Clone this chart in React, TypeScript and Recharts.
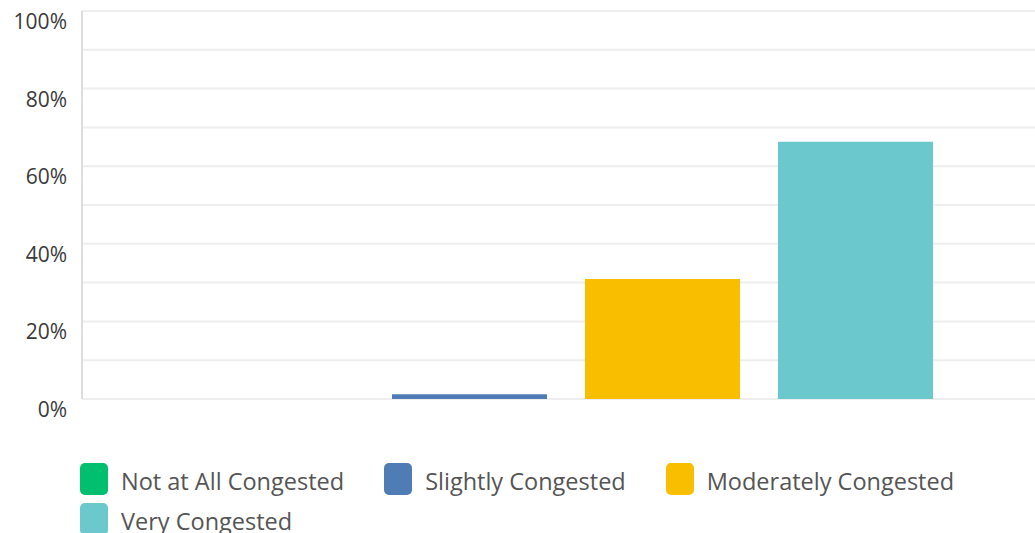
import React from "react";
import { BarChart, Bar, XAxis, YAxis, CartesianGrid, Legend } from "recharts";

const categories = ["Not at All Congested", "Slightly Congested", "Moderately Congested", "Very Congested"];
const values = [0, 1.2, 30.9, 66.3];
const colors = ["#00bf6f", "#507cb6", "#f9be00", "#6bc8cd"];
const yTicks = [0, 10, 20, 30, 40, 50, 60, 70, 80, 90, 100];
const labeledTicks = [0, 20, 40, 60, 80, 100];

const row: Record<string, number | string> = { name: "Q1" };
categories.forEach((c, i) => {
  row["s" + i] = values[i];
});
const data = [row];

const FONT = '"Open Sans", sans-serif';

const YTick = (props: any) => {
  const { y, payload } = props;
  if (!labeledTicks.includes(payload.value)) return null;
  return (
    <text x={67} y={y + 10} textAnchor="end" dominantBaseline="central" fill="#3a3a3a" fontSize={21} fontFamily={FONT}>
      {payload.value + "%"}
    </text>
  );
};

const LegendContent = (props: any) => {
  const payload = [...(props.payload || [])].sort(
    (a: any, b: any) => categories.indexOf(a.value) - categories.indexOf(b.value)
  );
  return (
    <div style={{ display: "flex", flexWrap: "wrap", columnGap: 40, rowGap: 8, fontFamily: FONT }}>
      {payload.map((p: any) => (
        <div key={p.value} style={{ display: "flex", alignItems: "center", height: 32 }}>
          <div style={{ width: 28, height: 32, borderRadius: 5, background: p.color, marginRight: 13, flexShrink: 0 }} />
          <span style={{ fontSize: 23.5, lineHeight: "32px", color: "#555", whiteSpace: "nowrap", paddingTop: 3 }}>{p.value}</span>
        </div>
      ))}
    </div>
  );
};

export default function App() {
  return (
    <div style={{ position: "absolute", left: 0, top: 0, width: 1035, height: 533, overflow: "hidden", background: "#fff" }}>
      <BarChart width={1050} height={533} data={data} margin={{ top: 11, right: 0, left: 0, bottom: 134 }} barGap={38} barSize={155}>
        <CartesianGrid vertical={false} stroke="#eeeeee" strokeWidth={2} />
        <XAxis dataKey="name" height={0} tick={false} tickLine={false} axisLine={{ stroke: "#d6d6d6", strokeWidth: 2 }} />
        <YAxis
          width={82}
          domain={[0, 100]}
          ticks={yTicks}
          interval={0}
          tickLine={false}
          axisLine={{ stroke: "#dddddd", strokeWidth: 2 }}
          tick={<YTick />}
        />
        {categories.map((c, i) => (
          <Bar key={c} dataKey={"s" + i} name={c} fill={colors[i]} isAnimationActive={false} />
        ))}
        <Legend
          layout="horizontal"
          verticalAlign="middle"
          align="center"
          content={<LegendContent />}
          wrapperStyle={{ position: "absolute", top: 463, left: 80, width: 955 }}
        />
      </BarChart>
    </div>
  );
}
